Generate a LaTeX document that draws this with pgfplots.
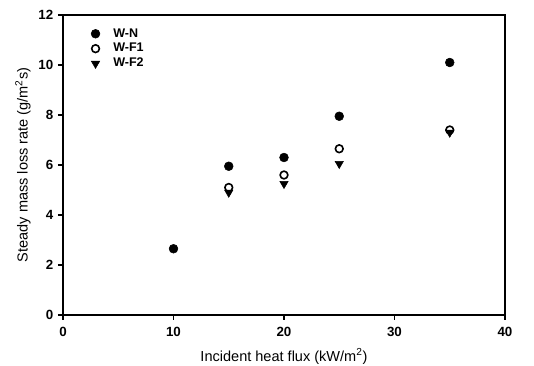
\documentclass[border=0pt]{standalone}
\usepackage{pgfplots}
\pgfplotsset{compat=1.18}
\usepackage{fontspec}
\setmainfont{Liberation Sans}
\begin{document}
\begin{tikzpicture}
\begin{axis}[
  scale only axis,
  width=331.5pt, height=225pt,
  xmin=0, xmax=40, ymin=0, ymax=12,
  xtick={0,10,20,30,40}, ytick={0,2,4,6,8,10,12},
  tick align=outside, tick pos=left,
  major tick length=3.75pt,
  axis line style={line width=0.8pt},
  every tick/.style={line width=0.8pt, black},
  /pgf/number format/assume math mode=true,
  ticklabel style={font=\fontsize{10}{12}\selectfont\bfseries},
  xticklabel style={yshift=-2pt},
  label style={font=\fontsize{10.9}{13}\selectfont},
  xlabel style={yshift=-2pt},
  ylabel style={yshift=-1pt},
  xlabel={Incident heat flux (kW/m\textsuperscript{2})},
  ylabel={Steady mass loss rate (g/m\textsuperscript{2}s)},
  legend style={draw=none, fill=none, at={(0.054,0.972)}, anchor=north west,
    font=\fontsize{9.4}{11}\selectfont\bfseries,
    /tikz/every odd column/.append style={column sep=8pt},
    nodes={inner ysep=1.6pt},
    legend cell align=left},
]
\coordinate (sw) at (rel axis cs:0,0);
\coordinate (ne) at (rel axis cs:1,1);
\addplot[only marks, mark=*, mark size=3.3pt, black] coordinates {
  (10,2.65) (15,5.95) (20,6.3) (25,7.95) (35,10.1)};
\addlegendentry{W-N}
\addplot[only marks, mark=o, mark size=2.9pt, black, mark options={line width=1.2pt, fill=white}] coordinates {
  (15,5.1) (20,5.6) (25,6.65) (35,7.4)};
\addlegendentry{W-F1}
\addplot[only marks, mark=triangle*, mark size=3.6pt, black, mark options={rotate=180}] coordinates {
  (15,4.9) (20,5.25) (25,6.05) (35,7.3)};
\addlegendentry{W-F2}
\end{axis}
\pgfresetboundingbox
\path ([xshift=-47.25pt,yshift=-38.25pt]sw) rectangle ([xshift=21.75pt,yshift=11.25pt]ne);
\end{tikzpicture}
\end{document}
